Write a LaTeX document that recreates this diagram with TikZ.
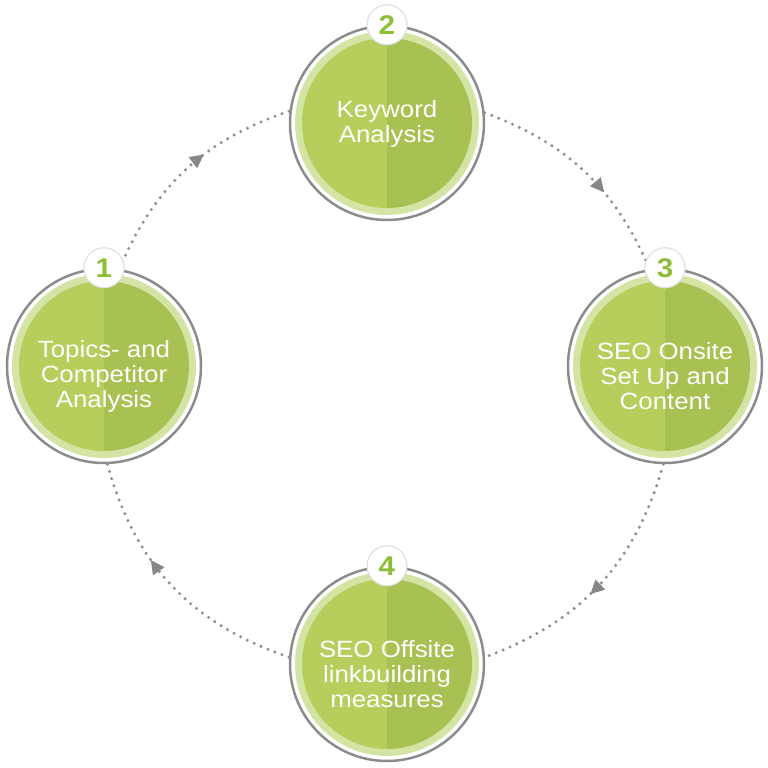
\documentclass[tikz,border=0pt]{standalone}
\usepackage{fontspec}
\setmainfont{Liberation Sans}
\newfontfamily\stepfont[FakeStretch=1.1]{Liberation Sans}
\usetikzlibrary{arrows.meta,decorations.markings}
\definecolor{ringgray}{RGB}{140,140,140}
\definecolor{dotgray}{RGB}{145,145,145}
\definecolor{arrowgray}{RGB}{135,135,135}
\definecolor{greenL}{RGB}{181,206,92}
\definecolor{greenR}{RGB}{168,193,83}
\definecolor{greenRing}{RGB}{212,228,165}
\definecolor{numgreen}{RGB}{140,190,55}
\tikzset{
  stepnode/.style={circle, minimum size=194pt, inner sep=0pt, draw=ringgray,
    line width=2.5pt, fill=white,
    path picture={
      \fill[greenRing] (path picture bounding box.center) circle (92pt);
      \fill[greenL] ([yshift=85pt]path picture bounding box.center) arc (90:270:85pt) -- cycle;
      \fill[greenR] ([yshift=85pt]path picture bounding box.center) arc (90:-90:85pt) -- cycle;
    }},
  steptext/.style={text=white, align=center, inner sep=0pt,
    font=\stepfont\fontsize{23.5}{25}\selectfont},
  badge/.style={circle, minimum size=40pt, inner sep=0pt, fill=white,
    draw=black!12, line width=1.2pt, text=numgreen,
    font=\stepfont\bfseries\fontsize{27}{27}\selectfont},
  flow/.style={draw=dotgray, line width=3.4pt, line cap=round,
    dash pattern=on 0pt off 7.5pt},
  arrowmark/.style={postaction={decorate, decoration={markings,
    mark=at position #1 with {\arrow[arrowgray]{Triangle[length=14pt,width=13pt]}}}}},
}
\begin{document}
\begin{tikzpicture}[x=1pt,y=1pt]
\useasboundingbox (0,0) rectangle (768,768);
\node[stepnode] (n1) at (104,402) {};
\node[stepnode] (n2) at (387,645) {};
\node[stepnode] (n3) at (665,402) {};
\node[stepnode] (n4) at (387,104) {};

\node[steptext] (t1) at ([yshift=-10pt]n1.center) {Topics- and\\Competitor\\Analysis};
\node[steptext] (t2) at ([yshift=-1pt]n2.center) {Keyword\\Analysis};
\node[steptext] (t3) at ([yshift=-10pt]n3.center) {SEO Onsite\\Set Up and\\Content};
\node[steptext] (t4) at ([yshift=-10pt]n4.center) {SEO Offsite\\linkbuilding\\measures};

\draw[flow, arrowmark=0.6] (n1.81) to[bend left=24] (n2.173);
\draw[flow, arrowmark=0.62] (n2.6) to[bend left=23] (n3.99);
\draw[flow, arrowmark=0.55] (n3.269) to[bend left=27] (n4.4);
\draw[flow, arrowmark=0.62] (n4.176) to[bend left=28] (n1.272);

\node[badge] (b1) at (n1.north) {1};
\node[badge] (b2) at (n2.north) {2};
\node[badge] (b3) at (n3.north) {3};
\node[badge] (b4) at (n4.north) {4};
\end{tikzpicture}
\end{document}
